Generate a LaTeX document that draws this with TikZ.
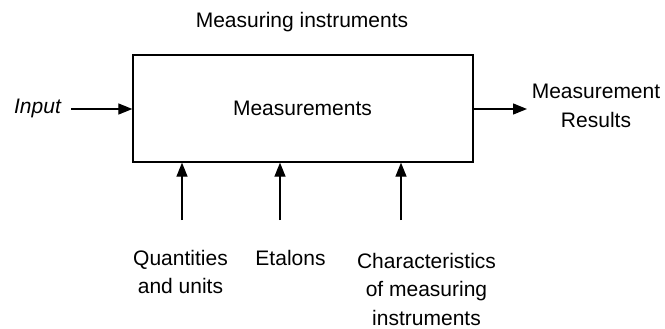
\documentclass[tikz,border=0pt]{standalone}
\usepackage{fontspec}
\setmainfont{Liberation Sans}
\usetikzlibrary{arrows.meta}
\begin{document}
\begin{tikzpicture}[x=1bp,y=-1bp,
  lbl/.style={inner sep=0pt,font=\fontsize{21bp}{28.5bp}\selectfont,align=center,anchor=base},
  flow/.style={line width=1.3bp,-{Triangle[length=14bp,width=11bp]}},
  box/.style={draw,line width=1.3bp,inner sep=0pt}]
\useasboundingbox (0,0) rectangle (665,328);
\node[box,minimum width=340bp,minimum height=107bp] (m) at (303,108.5) {};
\node[lbl] (mt) at (302.5,115) {Measurements};
\node[lbl] (mi) at (302,27) {Measuring instruments};
\node[lbl] (in) at (37.5,113) {\itshape Input};
\coordinate (ins) at (71,109);
\draw[flow] (ins) -- (m.west |- ins);
\node[lbl] (out) at (596,127) {Measurement\\Results};
\coordinate (outs) at (527,109);
\draw[flow] (m.east |- ins) -- (outs);
\node[lbl] (q) at (180.5,293.5) {Quantities\\and units};
\node[lbl] (e) at (290.5,265) {Etalons};
\node[lbl] (c) at (426.5,325) {Characteristics\\of measuring\\instruments};
\coordinate (qs) at (182,220);
\coordinate (es) at (280,220);
\coordinate (cs) at (401,220);
\draw[flow] (qs) -- (qs |- m.south);
\draw[flow] (es) -- (es |- m.south);
\draw[flow] (cs) -- (cs |- m.south);
\end{tikzpicture}
\end{document}
